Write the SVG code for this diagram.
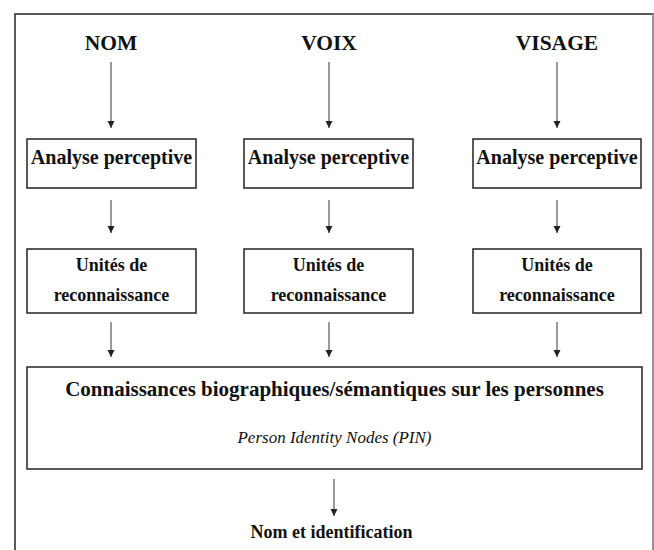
<svg xmlns="http://www.w3.org/2000/svg" width="654" height="550" viewBox="0 0 654 550">
<defs>
<style>
.box{fill:#fff;stroke:#222;stroke-width:1.5}
.t{font-family:"Liberation Serif","Times New Roman",serif;font-weight:bold;fill:#111;text-anchor:middle}
.i{font-family:"Liberation Serif","Times New Roman",serif;font-style:italic;fill:#111;text-anchor:middle}
.c{stroke:#555;stroke-width:1.2;fill:none;marker-end:url(#ah)}
</style>
<marker id="ah" viewBox="0 0 10 10" refX="10" refY="5" markerWidth="7" markerHeight="9" markerUnits="userSpaceOnUse" orient="auto">
<path d="M0,0 L10,5 L0,10 z" fill="#222"/>
</marker>
</defs>
<rect width="654" height="550" fill="#fff"/>
<g id="frame">
<path d="M15,552 V14 H653 V552" fill="none" stroke="#222" stroke-width="1.5"/>
<line x1="653" y1="14" x2="653" y2="552" stroke="#aaa" stroke-width="1.5"/>
</g>
<g id="nom"><text class="t" x="111" y="50" font-size="21.5">NOM</text></g>
<g id="voix"><text class="t" x="329" y="50" font-size="21.5">VOIX</text></g>
<g id="visage"><text class="t" x="557" y="50" font-size="21.5">VISAGE</text></g>
<g id="ap1"><rect class="box" x="27" y="139" width="169" height="49"/><text class="t" x="111.5" y="164" font-size="20">Analyse perceptive</text></g>
<g id="ap2"><rect class="box" x="244" y="139" width="169" height="49"/><text class="t" x="328.5" y="164" font-size="20">Analyse perceptive</text></g>
<g id="ap3"><rect class="box" x="473" y="139" width="168" height="49"/><text class="t" x="557" y="164" font-size="20">Analyse perceptive</text></g>
<g id="ur1"><rect class="box" x="27" y="249" width="169" height="64"/><text class="t" x="111.5" y="271" font-size="18">Unités de</text><text class="t" x="111.5" y="301" font-size="18">reconnaissance</text></g>
<g id="ur2"><rect class="box" x="244" y="249" width="169" height="64"/><text class="t" x="328.5" y="271" font-size="18">Unités de</text><text class="t" x="328.5" y="301" font-size="18">reconnaissance</text></g>
<g id="ur3"><rect class="box" x="473" y="249" width="168" height="64"/><text class="t" x="557" y="271" font-size="18">Unités de</text><text class="t" x="557" y="301" font-size="18">reconnaissance</text></g>
<g id="pin"><rect class="box" x="27" y="367" width="615" height="102"/><text class="t" x="334.5" y="396" font-size="21">Connaissances biographiques/sémantiques sur les personnes</text><text class="i" x="334.5" y="443" font-size="17">Person Identity Nodes (PIN)</text></g>
<g id="out"><text class="t" x="331.5" y="538" font-size="18">Nom et identification</text></g>
<g id="connectors">
<line class="c" x1="111" y1="62" x2="111" y2="128"/>
<line class="c" x1="329" y1="62" x2="329" y2="128"/>
<line class="c" x1="557" y1="62" x2="557" y2="128"/>
<line class="c" x1="111" y1="200" x2="111" y2="233"/>
<line class="c" x1="329" y1="200" x2="329" y2="233"/>
<line class="c" x1="557" y1="200" x2="557" y2="233"/>
<line class="c" x1="111" y1="322" x2="111" y2="357"/>
<line class="c" x1="329" y1="322" x2="329" y2="357"/>
<line class="c" x1="557" y1="322" x2="557" y2="357"/>
<line class="c" x1="334" y1="479" x2="334" y2="516"/>
</g>
</svg>
